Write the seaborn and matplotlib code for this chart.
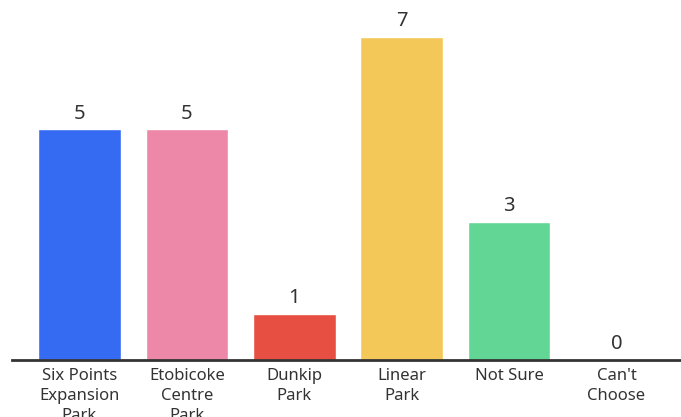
import matplotlib
matplotlib.use("Agg")
import matplotlib.pyplot as plt
import seaborn as sns
import pandas as pd

categories = ["Six Points\nExpansion\nPark", "Etobicoke\nCentre\nPark", "Dunkip\nPark",
              "Linear\nPark", "Not Sure", "Can't\nChoose"]
values = [5, 5, 1, 7, 3, 0]
colors = ["#356AF2", "#EE88A9", "#E84F43", "#F4C858", "#62D694", "#9E9E9E"]

sns.set_theme(style="white")
plt.rcParams['font.family'] = ['Noto Sans', 'DejaVu Sans']

df = pd.DataFrame({"cat": categories, "val": values})

fig = plt.figure(figsize=(6.81, 4.17), dpi=100)
ax = fig.add_axes([12/681, 57/417, 1 - 12/681, 1 - 57/417])
sns.barplot(data=df, x="cat", y="val", hue="cat", palette=colors, legend=False,
            width=0.77, ax=ax, saturation=1)

ax.set_xlim(-0.628, 5.6)
ax.set_ylim(0, 7 * 360 / 323)
for s in ["top", "right", "left"]:
    ax.spines[s].set_visible(False)
ax.spines["bottom"].set_color("#333333")
ax.spines["bottom"].set_linewidth(2)
ax.set_yticks([])
ax.set_xlabel("")
ax.set_ylabel("")
ax.tick_params(axis="x", length=0, pad=5.5, labelsize=12, labelcolor="#333333")
for lbl in ax.get_xticklabels():
    lbl.set_verticalalignment("top")
    lbl.set_linespacing(1.35)

for i, v in enumerate(values):
    ax.annotate(str(v), (i, v), xytext=(0, 4), textcoords="offset points",
                ha="center", va="bottom", fontsize=14.5, color="#333333")

fig.savefig("out.png", dpi=100)
